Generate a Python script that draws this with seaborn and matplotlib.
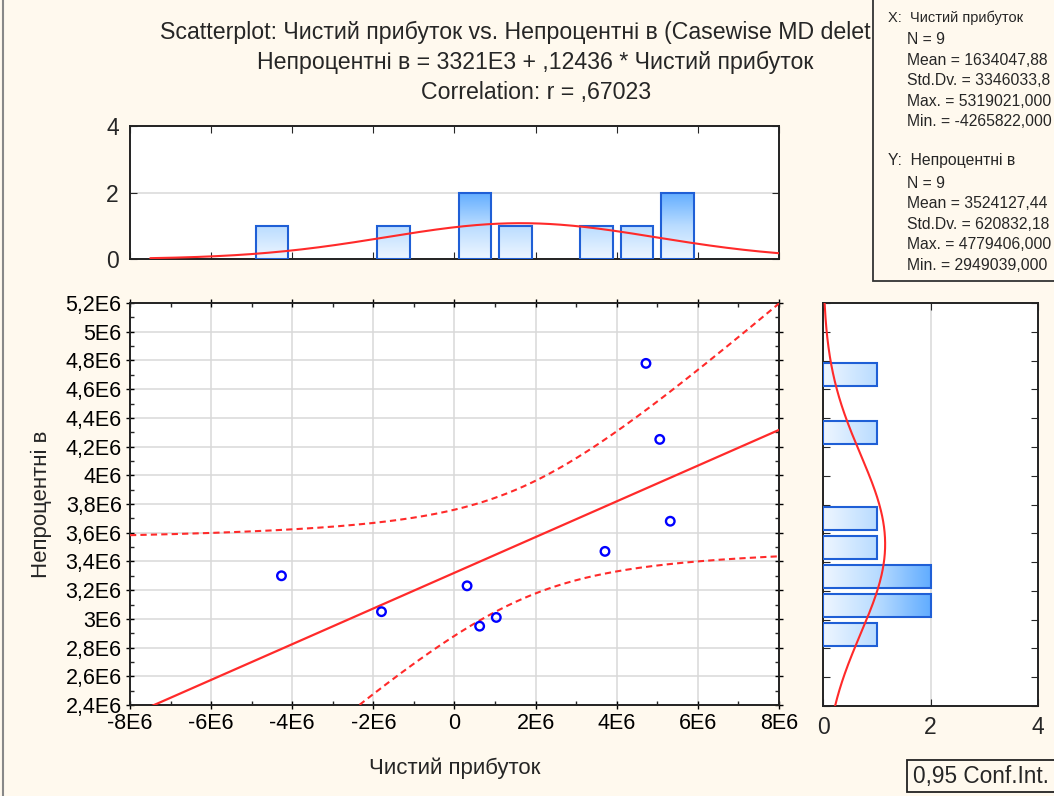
import numpy as np
import pandas as pd
import matplotlib
matplotlib.use("Agg")
import matplotlib.pyplot as plt
import matplotlib.colors as mcolors
from matplotlib.patches import Rectangle
from matplotlib.ticker import MultipleLocator, FuncFormatter
import seaborn as sns

# ---------------- data ----------------
x_name = "Чистий прибуток"
y_name = "Непроцентні в"
x_vals = [-4265822, -1800000, 310000, 620000, 1030000, 3710000, 4720000, 5060000, 5319021]
y_vals = [3300000, 3050000, 3230000, 2949039, 3010000, 3470000, 4779406, 4250000, 3680000]

title_lines = [
    "Scatterplot: Чистий прибуток vs. Непроцентні в (Casewise MD delet",
    "Непроцентні в = 3321E3 + ,12436 * Чистий прибуток",
    "Correlation: r = ,67023",
]
stats_x = ["N = 9", "Mean = 1634047,88", "Std.Dv. = 3346033,8",
           "Max. = 5319021,000", "Min. = -4265822,000"]
stats_y = ["N = 9", "Mean = 3524127,44", "Std.Dv. = 620832,18",
           "Max. = 4779406,000", "Min. = 2949039,000"]
conf_label = "0,95 Conf.Int."
T_975_DF7 = 2.364624  # Student t quantile, 0.975, df = n-2 = 7

df = pd.DataFrame({x_name: x_vals, y_name: y_vals})

# ---------------- style ----------------
sns.set_style("ticks")
plt.rcParams['font.family'] = ['Liberation Sans', 'DejaVu Sans']
BG = "#fff9ee"
GRID = "#d9d9d9"
RED = "#ff2a2a"
EDGE = "#1f5fd6"
TICK_FS = 15.5
LABEL_FS = 16
TITLE_FS = 16.7
STAT_FS = 11.3

W, H = 1054, 796
fig = plt.figure(figsize=(W / 100, H / 100), dpi=100, facecolor=BG)

def fr(left, top, right, bottom):
    return [left / W, 1 - bottom / H, (right - left) / W, (bottom - top) / H]

ax = fig.add_axes(fr(130, 303, 779, 705))
ax_top = fig.add_axes(fr(130, 126, 779, 259))
ax_right = fig.add_axes(fr(823, 303, 1038, 706))

XMIN, XMAX = -8e6, 8e6
YMIN, YMAX = 2.4e6, 5.2e6

def e6fmt(v, pos=None):
    if abs(v) < 1:
        return "0"
    s = f"{v / 1e6:g}".replace(".", ",")
    return s + "E6"

# ---------------- main scatter ----------------
x = np.array(x_vals, float)
y = np.array(y_vals, float)
n = len(x)
slope, intercept = np.polyfit(x, y, 1)
xs = np.linspace(XMIN, XMAX, 400)
yhat = intercept + slope * xs
resid = y - (intercept + slope * x)
s_err = np.sqrt(np.sum(resid ** 2) / (n - 2))
sxx = np.sum((x - x.mean()) ** 2)
half = T_975_DF7 * s_err * np.sqrt(1 / n + (xs - x.mean()) ** 2 / sxx)

ax.set_facecolor("white")
ax.plot(xs, yhat, color=RED, lw=1.6, zorder=3)
ax.plot(xs, yhat + half, color=RED, lw=1.5, ls=(0, (3, 2)), zorder=3)
ax.plot(xs, yhat - half, color=RED, lw=1.5, ls=(0, (3, 2)), zorder=3)
sns.scatterplot(data=df, x=x_name, y=y_name, ax=ax, marker="o", s=38,
                facecolor="none", edgecolor="#0000ff", linewidth=1.7, zorder=4)
ax.set_xlim(XMIN, XMAX)
ax.set_ylim(YMIN, YMAX)
ax.xaxis.set_major_locator(MultipleLocator(2e6))
ax.xaxis.set_minor_locator(MultipleLocator(1e6))
ax.yaxis.set_major_locator(MultipleLocator(0.2e6))
ax.yaxis.set_minor_locator(MultipleLocator(0.1e6))
ax.xaxis.set_major_formatter(FuncFormatter(e6fmt))
ax.yaxis.set_major_formatter(FuncFormatter(e6fmt))
ax.grid(True, which="major", color=GRID, lw=1.1, zorder=0)
ax.set_axisbelow(True)
ax.tick_params(which="major", direction="inout", length=6, width=1, top=True, right=True,
               labelsize=TICK_FS, pad=3, colors="black")
ax.tick_params(which="minor", direction="in", length=3, width=1, top=True, right=True)
ax.set_xlabel(x_name, fontsize=LABEL_FS, labelpad=17)
ax.set_ylabel(y_name, fontsize=LABEL_FS, labelpad=10)
for sp in ax.spines.values():
    sp.set_visible(True)
    sp.set_linewidth(1.4)
    sp.set_color("#222222")

# ---------------- gradient helper ----------------
cmap = mcolors.LinearSegmentedColormap.from_list("g", ["#eef6ff", "#b9dcff", "#62adff"])

def gradient_bars(a, orient, vmax):
    for p in list(a.patches):
        x0, y0 = p.get_x(), p.get_y()
        w, h = p.get_width(), p.get_height()
        size = h if orient == "v" else w
        if size <= 0:
            p.remove()
            continue
        if orient == "v":
            grad = np.linspace(0, size / vmax, 64).reshape(-1, 1)
        else:
            grad = np.linspace(0, size / vmax, 64).reshape(1, -1)
        im = a.imshow(grad, extent=(x0, x0 + w, y0, y0 + h), origin="lower",
                      cmap=cmap, vmin=0, vmax=1, aspect="auto",
                      interpolation="bilinear", zorder=2)
        im.set_clip_path(p)
        p.set_facecolor("none")
        p.set_edgecolor(EDGE)
        p.set_linewidth(1.5)
        p.set_zorder(3)

# ---------------- top histogram ----------------
ax_top.set_facecolor("white")
sns.histplot(data=df, x=x_name, ax=ax_top, binwidth=1e6, binrange=(-5e6, 6e6),
             shrink=0.8, stat="count", element="bars")
gradient_bars(ax_top, "v", 2.0)
sx = x.std(ddof=1)
xc = np.linspace(-7.5e6, XMAX, 300)
ax_top.plot(xc, n * 1e6 * np.exp(-0.5 * ((xc - x.mean()) / sx) ** 2) / (sx * np.sqrt(2 * np.pi)),
            color=RED, lw=1.5, zorder=4)
ax_top.set_xlim(XMIN, XMAX)
ax_top.set_ylim(0, 4)
ax_top.set_yticks([0, 2, 4])
ax_top.xaxis.set_major_locator(MultipleLocator(2e6))
ax_top.set_xticklabels([])
ax_top.set_xlabel("")
ax_top.set_ylabel("")
ax_top.grid(True, axis="y", color=GRID, lw=1.1)
ax_top.set_axisbelow(True)
ax_top.tick_params(axis="x", direction="in", length=5, top=True, bottom=True)
ax_top.tick_params(axis="y", direction="in", length=5, right=True, labelsize=TICK_FS + 1, pad=8)
for sp in ax_top.spines.values():
    sp.set_visible(True)
    sp.set_linewidth(1.4)
    sp.set_color("#222222")

# ---------------- right histogram ----------------
ax_right.set_facecolor("white")
sns.histplot(data=df, y=y_name, ax=ax_right, binwidth=0.2e6, binrange=(2.8e6, 4.8e6),
             shrink=0.8, stat="count", element="bars")
gradient_bars(ax_right, "h", 2.0)
sy = y.std(ddof=1)
yc = np.linspace(YMIN, YMAX, 300)
ax_right.plot(n * 0.2e6 * np.exp(-0.5 * ((yc - y.mean()) / sy) ** 2) / (sy * np.sqrt(2 * np.pi)), yc,
              color=RED, lw=1.5, zorder=4)
ax_right.set_ylim(YMIN, YMAX)
ax_right.set_xlim(0, 4)
ax_right.set_xticks([0, 2, 4])
ax_right.yaxis.set_major_locator(MultipleLocator(0.2e6))
ax_right.set_yticklabels([])
ax_right.set_xlabel("")
ax_right.set_ylabel("")
ax_right.grid(True, axis="x", color=GRID, lw=1.1)
ax_right.set_axisbelow(True)
ax_right.tick_params(axis="y", direction="in", length=5, left=True, right=True)
ax_right.tick_params(axis="x", direction="in", length=5, top=True, labelsize=TICK_FS + 1, pad=7)
for sp in ax_right.spines.values():
    sp.set_visible(True)
    sp.set_linewidth(1.4)
    sp.set_color("#222222")

# ---------------- titles ----------------
fig.text(160 / W, 1 - 32 / H, title_lines[0], ha="left", va="center", fontsize=TITLE_FS)
fig.text(535 / W, 1 - 62 / H, title_lines[1], ha="center", va="center", fontsize=TITLE_FS)
fig.text(536 / W, 1 - 93 / H, title_lines[2], ha="center", va="center", fontsize=TITLE_FS)

# ---------------- stats box ----------------
box = Rectangle((873 / W, 1 - 281 / H), 200 / W, 290 / H, transform=fig.transFigure,
                facecolor=BG, edgecolor="#333333", lw=1.3, zorder=5)
fig.add_artist(box)
fig.text(888 / W, 1 - 18 / H, "X:  " + x_name, fontsize=STAT_FS - 0.8, va="center", zorder=6)
for i, s in enumerate(stats_x):
    fig.text(907 / W, 1 - (39.5 + 20.6 * i) / H, s, fontsize=STAT_FS, va="center", zorder=6)
fig.text(888 / W, 1 - 161 / H, "Y:  " + y_name, fontsize=STAT_FS, va="center", zorder=6)
for i, s in enumerate(stats_y):
    fig.text(907 / W, 1 - (183 + 20.6 * i) / H, s, fontsize=STAT_FS, va="center", zorder=6)

# ---------------- conf int box ----------------
cbox = Rectangle((907 / W, 1 - 792 / H), 160 / W, 32 / H, transform=fig.transFigure,
                 facecolor=BG, edgecolor="#222222", lw=1.3, zorder=5)
fig.add_artist(cbox)
fig.text(913 / W, 1 - 776 / H, conf_label, fontsize=16.3, va="center", zorder=6)

# left frame line
fig.add_artist(plt.Line2D([3 / W, 3 / W], [0, 1], transform=fig.transFigure,
                          color="#888888", lw=1.5))

fig.savefig("out.png", dpi=100, facecolor=BG)
